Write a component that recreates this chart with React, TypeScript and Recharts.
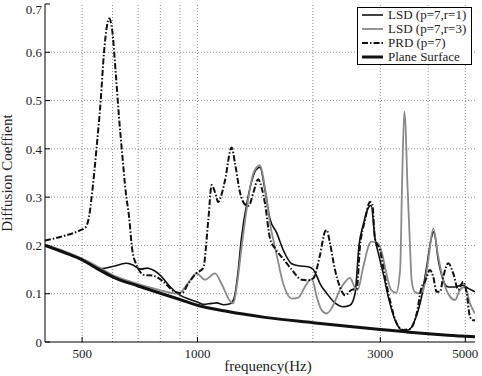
import React from 'react';
import { LineChart, Line, XAxis, YAxis, ReferenceLine, Legend } from 'recharts';

const FONT = '"Liberation Serif", "Times New Roman", Times, serif';

// axis ticks / grid positions
const freqTicks = [500, 1000, 3000, 5000];
const gridFreqs = [500, 600, 700, 800, 900, 1000, 2000, 3000, 4000, 5000];
const yTicks = [0, 0.1, 0.2, 0.3, 0.4, 0.5, 0.6, 0.7];

// [frequency Hz, diffusion coefficient]
const lsdR1: [number, number][] = [
  [400, 0.2], [450, 0.186], [500, 0.171], [537, 0.157], [559, 0.152], [605, 0.157], [650, 0.163],
  [676, 0.16], [711, 0.151], [740, 0.153], [770, 0.148], [800, 0.138], [847, 0.115], [900, 0.097],
  [956, 0.088], [1000, 0.083], [1035, 0.078], [1090, 0.08], [1122, 0.081], [1170, 0.077], [1216, 0.079],
  [1245, 0.09], [1278, 0.15], [1300, 0.21], [1355, 0.3], [1420, 0.356], [1456, 0.362], [1500, 0.315],
  [1546, 0.255], [1610, 0.226], [1675, 0.19], [1762, 0.162], [1833, 0.158], [1946, 0.156], [2006, 0.15],
  [2047, 0.137], [2088, 0.121], [2174, 0.101], [2284, 0.081], [2401, 0.073], [2500, 0.076], [2577, 0.1],
  [2640, 0.2], [2708, 0.243], [2790, 0.278], [2840, 0.283], [2905, 0.215], [2964, 0.184], [3053, 0.142],
  [3146, 0.094], [3276, 0.046], [3411, 0.025], [3550, 0.025], [3696, 0.046], [3846, 0.094], [3964, 0.156],
  [4084, 0.218], [4141, 0.228], [4250, 0.17], [4380, 0.128], [4513, 0.114], [4698, 0.114], [4892, 0.118],
  [5091, 0.111], [5300, 0.104],
];

const lsdR3: [number, number][] = [
  [400, 0.201], [450, 0.188], [500, 0.173], [550, 0.156], [600, 0.139], [650, 0.128], [700, 0.12],
  [750, 0.113], [800, 0.107], [850, 0.102], [891, 0.1], [937, 0.118], [995, 0.142], [1046, 0.129],
  [1111, 0.142], [1156, 0.12], [1216, 0.085], [1240, 0.08], [1266, 0.115], [1304, 0.197], [1344, 0.275],
  [1400, 0.35], [1456, 0.366], [1500, 0.32], [1546, 0.246], [1610, 0.18], [1675, 0.12], [1762, 0.09],
  [1833, 0.092], [1900, 0.112], [1960, 0.128], [1990, 0.13], [2047, 0.094], [2109, 0.066], [2174, 0.059],
  [2250, 0.073], [2354, 0.108], [2426, 0.124], [2500, 0.133], [2577, 0.112], [2620, 0.108], [2708, 0.156],
  [2840, 0.208], [2950, 0.205], [3030, 0.185], [3085, 0.156], [3200, 0.108], [3300, 0.102], [3380, 0.15],
  [3420, 0.33], [3465, 0.477], [3490, 0.45], [3530, 0.33], [3586, 0.2], [3620, 0.13], [3680, 0.105],
  [3770, 0.101], [3884, 0.108], [4003, 0.17], [4124, 0.235], [4250, 0.177], [4380, 0.128], [4560, 0.094],
  [4698, 0.087], [4842, 0.108], [4989, 0.114], [5143, 0.08], [5300, 0.059],
];

const prd: [number, number][] = [
  [400, 0.21], [450, 0.22], [496, 0.232], [511, 0.238], [521, 0.259], [532, 0.315], [545, 0.4],
  [559, 0.5], [570, 0.598], [580, 0.653], [588, 0.67], [599, 0.646], [612, 0.556], [624, 0.466],
  [636, 0.39], [650, 0.31], [663, 0.259], [676, 0.19], [697, 0.156], [725, 0.139], [770, 0.137],
  [814, 0.125], [873, 0.104], [910, 0.101], [946, 0.121], [995, 0.143], [1035, 0.153], [1067, 0.252],
  [1089, 0.325], [1111, 0.31], [1133, 0.29], [1160, 0.31], [1180, 0.335], [1228, 0.403], [1253, 0.37],
  [1291, 0.31], [1330, 0.285], [1360, 0.282], [1400, 0.31], [1440, 0.337], [1470, 0.32], [1500, 0.287],
  [1546, 0.215], [1600, 0.192], [1675, 0.172], [1762, 0.15], [1870, 0.129], [1946, 0.128], [2006, 0.132],
  [2088, 0.18], [2150, 0.228], [2174, 0.232], [2217, 0.205], [2284, 0.15], [2354, 0.114], [2426, 0.097],
  [2526, 0.108], [2603, 0.11], [2655, 0.197], [2736, 0.252], [2819, 0.29], [2860, 0.285], [2905, 0.215],
  [2994, 0.19], [3085, 0.135], [3178, 0.087], [3309, 0.039], [3444, 0.025], [3586, 0.027], [3733, 0.059],
  [3846, 0.114], [3924, 0.125], [4044, 0.149], [4124, 0.135], [4208, 0.104], [4294, 0.104], [4380, 0.135],
  [4513, 0.163], [4651, 0.142], [4792, 0.108], [4939, 0.125], [5040, 0.101], [5143, 0.052], [5243, 0.045],
  [5300, 0.045],
];

const plane: [number, number][] = [
  [400, 0.2], [450, 0.185], [500, 0.17], [550, 0.151], [600, 0.135], [700, 0.116], [800, 0.101],
  [900, 0.088], [1000, 0.076], [1200, 0.063], [1500, 0.051], [2000, 0.04], [2500, 0.032], [3000, 0.026],
  [3500, 0.021], [4000, 0.017], [4500, 0.014], [5300, 0.011],
];

const toRows = (pts: [number, number][]) => pts.map(([f, v]) => ({ f, v }));

const series = [
  { name: 'LSD (p=7,r=1)', data: lsdR1, color: '#111', width: 1.6, dash: undefined },
  { name: 'LSD (p=7,r=3)', data: lsdR3, color: '#8a8a8a', width: 1.8, dash: undefined },
  { name: 'PRD (p=7)', data: prd, color: '#111', width: 2, dash: '6 2 1.5 2' },
  { name: 'Plane Surface', data: plane, color: '#111', width: 3, dash: undefined },
];

const GRID = '#8f8f8f';

const XTick = (props: any) => (
  <text x={props.x} y={props.y} dy="0.71em" textAnchor="middle" fontSize={13} fontFamily={FONT} fill="#222">
    {props.payload.value}
  </text>
);

const YTick = (props: any) => (
  <text x={props.x} y={props.y} dy="0.36em" textAnchor="end" fontSize={13} fontFamily={FONT} fill="#222">
    {props.payload.value}
  </text>
);

const LegendBox = () => (
  <div
    style={{
      width: 115, height: 58, boxSizing: 'border-box', border: '1px solid #000', background: '#fff',
      padding: '0 0 0 4px', fontFamily: FONT, fontSize: 13, lineHeight: '14px', color: '#222',
    }}
  >
    {series.map((s) => (
      <div key={s.name} style={{ display: 'flex', alignItems: 'center', height: 14, whiteSpace: 'nowrap' }}>
        <svg width={21} height={8}>
          <line x1={0} y1={4} x2={21} y2={4} stroke={s.color} strokeWidth={s.width} strokeDasharray={s.dash} />
        </svg>
        <span style={{ marginLeft: 5 }}>{s.name}</span>
      </div>
    ))}
  </div>
);

const App: React.FC = () => {
  return (
    <div style={{ position: 'absolute', left: 0, top: 0, width: 482, height: 376, background: '#fff', fontFamily: FONT }}>
      <LineChart width={482} height={376} margin={{ top: 4, right: 7, bottom: 0, left: 0 }}>
        <XAxis
          dataKey="f"
          type="number"
          scale="log"
          domain={[400, 5300]}
          allowDataOverflow
          ticks={freqTicks}
          height={34}
          stroke="#000"
          tickSize={-5}
          tickMargin={12}
          tick={<XTick />}
          label={{
            content: () => (
              <text x={268} y={371} textAnchor="middle" fontSize={15} fontFamily={FONT} fill="#222">
                frequency(Hz)
              </text>
            ),
          }}
        />
        <XAxis xAxisId="top" orientation="top" type="number" scale="log" domain={[400, 5300]} allowDataOverflow
          ticks={freqTicks} height={0} stroke="#000" tick={false} tickLine={false} />
        <YAxis
          type="number"
          domain={[0, 0.7]}
          ticks={yTicks}
          width={45}
          stroke="#000"
          tickSize={-5}
          tickMargin={8}
          tick={<YTick />}
          label={{
            content: () => (
              <text x={12} y={173} transform="rotate(-90, 12, 173)" textAnchor="middle" fontSize={15} fontFamily={FONT} fill="#222">
                Diffusion Coeffient
              </text>
            ),
          }}
        />
        <YAxis yAxisId="right" orientation="right" type="number" domain={[0, 0.7]} ticks={yTicks} width={0}
          stroke="#000" tick={false} tickLine={false} />
        {gridFreqs.map((f) => (
          <ReferenceLine key={`gx${f}`} x={f} stroke={GRID} strokeDasharray="1 2" />
        ))}
        {yTicks.slice(1, -1).map((v) => (
          <ReferenceLine key={`gy${v}`} y={v} stroke={GRID} strokeDasharray="1 2" />
        ))}
        {series.map((s) => (
          <Line
            key={s.name}
            name={s.name}
            data={toRows(s.data)}
            dataKey="v"
            type="monotone"
            stroke={s.color}
            strokeWidth={s.width}
            strokeDasharray={s.dash}
            dot={false}
            activeDot={false}
            isAnimationActive={false}
          />
        ))}
        <Legend
          layout="vertical"
          align="center"
          verticalAlign="middle"
          wrapperStyle={{ left: 357, top: 7, width: 115, height: 58 }}
          content={() => <LegendBox />}
        />
      </LineChart>
    </div>
  );
};

export default App;
